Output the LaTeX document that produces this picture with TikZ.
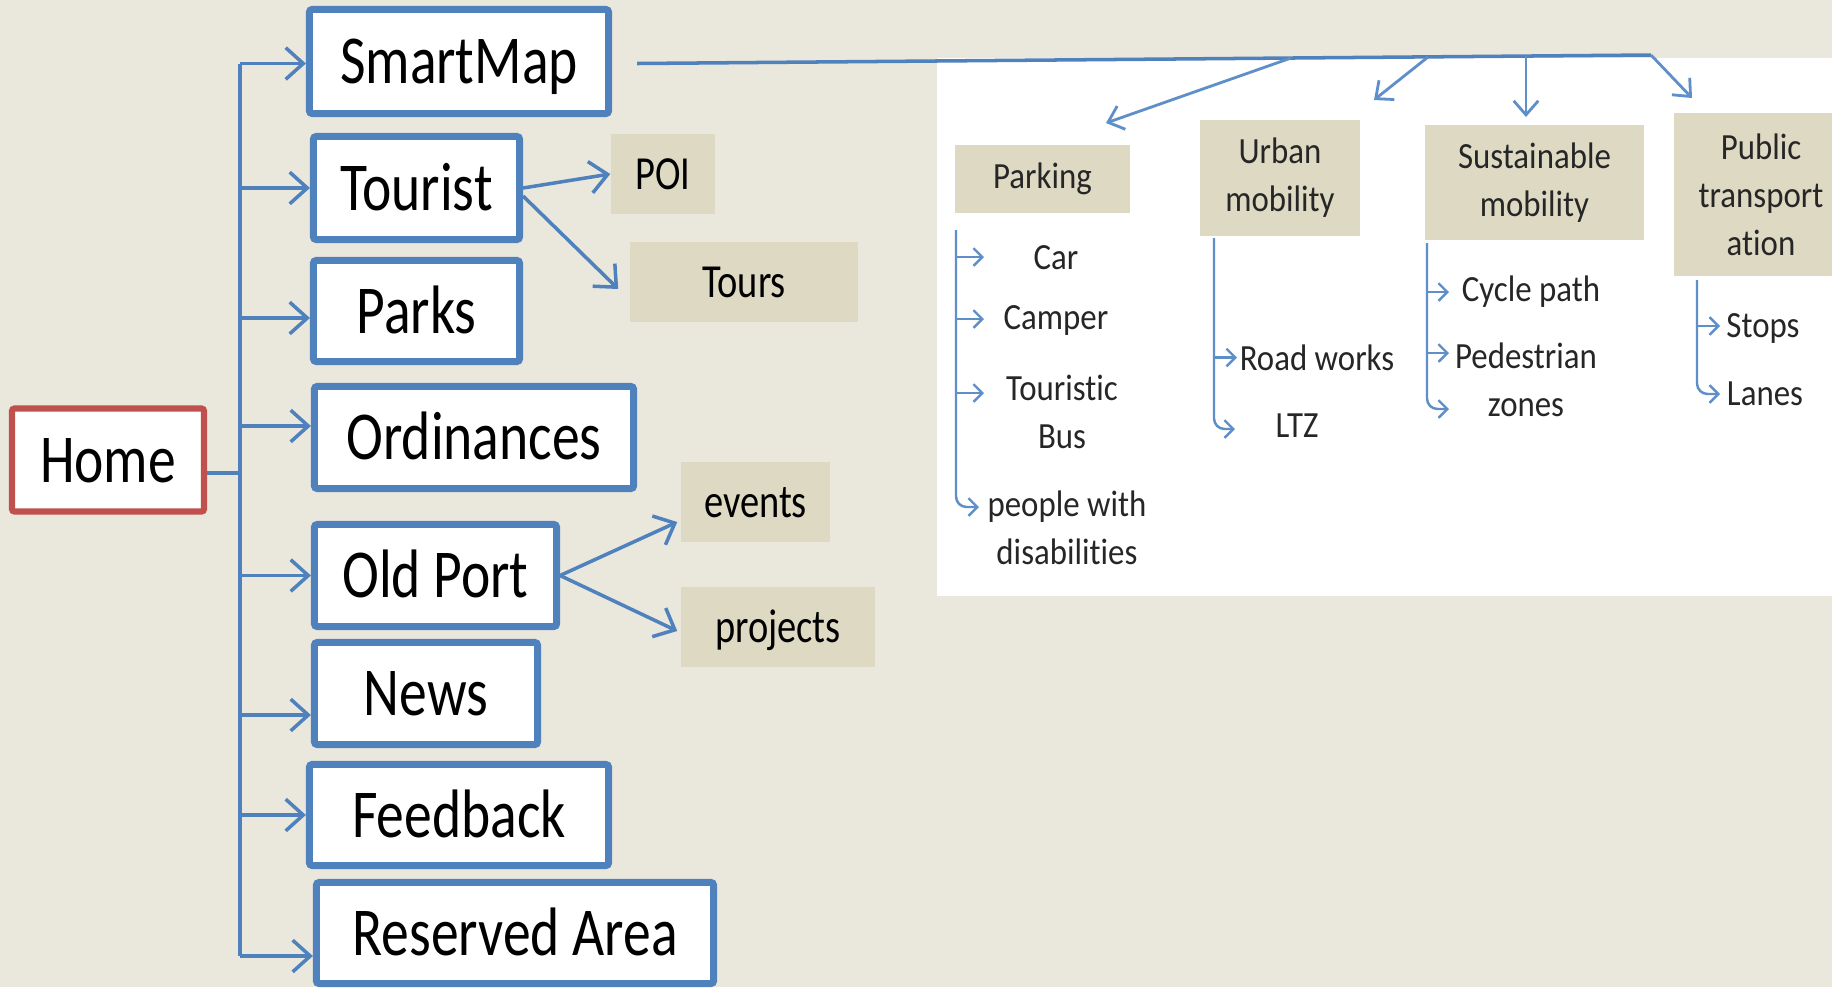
\documentclass[tikz,border=0pt]{standalone}
\usepackage{fontspec}
\setmainfont{Carlito}
\newfontfamily\narrowfont{Carlito}[FakeStretch=0.81]
\newfontfamily\panelfont{Carlito}[FakeStretch=0.89,Ligatures=NoCommon]
\usetikzlibrary{arrows.meta}
\definecolor{pagetan}{HTML}{EAE7DD}
\definecolor{boxtan}{HTML}{DDD9C3}
\definecolor{linkblue}{HTML}{4F81BD}
\definecolor{paneblue}{HTML}{5F8FC8}
\definecolor{homered}{HTML}{C0504D}

\begin{document}
\begin{tikzpicture}[x=0.01cm,y=-0.01cm,
  menu/.style={draw=linkblue, line width=2pt, fill=white, inner sep=0pt, rounded corners=0.8pt,
    text height=12.6pt, text depth=0pt, font=\narrowfont\fontsize{19.5}{23}\selectfont},
  sub/.style={fill=boxtan, inner sep=0pt, minimum height=0.8cm,
    text height=8.7pt, text depth=0pt, font=\narrowfont\fontsize{13.5}{16}\selectfont},
  cat/.style={fill=boxtan, inner sep=0pt, align=center, text=black!85,
    font=\panelfont\fontsize{10.5}{13.6}\selectfont},
  item/.style={inner sep=0pt, align=center, text=black!85,
    font=\panelfont\fontsize{10.5}{13.5}\selectfont},
  link/.style={draw=linkblue, line width=1pt, -{Straight Barb[length=5pt,width=9pt]}},
  trunk/.style={draw=linkblue, line width=1pt},
  catlink/.style={draw=paneblue, line width=0.8pt, -{Straight Barb[length=4pt,width=7pt]}},
  itemlink/.style={draw=paneblue, line width=0.7pt, -{Straight Barb[length=2.5pt,width=5pt]}}]
\useasboundingbox (0,0) rectangle (1832,987);
\fill[pagetan] (0,0) rectangle (1832,987);
\fill[white] (937,58) rectangle (1832,596);

\node[menu, draw=homered, line width=1.8pt, minimum width=1.92cm, minimum height=1.03cm] (home) at (108,460) {Home};
\node[menu, minimum width=2.99cm, minimum height=1.04cm] (smart) at (459,61.5) {SmartMap};
\node[menu, minimum width=2.06cm, minimum height=1.03cm] (tourist) at (416.5,188) {Tourist};
\node[menu, minimum width=2.06cm, minimum height=1.01cm] (parks) at (416.5,311) {Parks};
\node[menu, minimum width=3.19cm, minimum height=1.02cm] (ordin) at (474,437.5) {Ordinances};
\node[menu, minimum width=2.42cm, minimum height=1.02cm] (oldport) at (435.5,575.5) {Old Port};
\node[menu, minimum width=2.23cm, minimum height=1.02cm] (news) at (426,693.5) {News};
\node[menu, minimum width=2.99cm, minimum height=1.01cm] (feedback) at (459,815) {Feedback};
\node[menu, minimum width=3.97cm, minimum height=1.01cm] (resv) at (515,933) {Reserved Area};

\node[sub, minimum width=1.04cm] (poi) at (663,174) {POI};
\node[sub, minimum width=2.28cm] (tours) at (744,282) {Tours};
\node[sub, minimum width=1.49cm] (events) at (755.5,502) {events};
\node[sub, minimum width=1.94cm] (projects) at (778,627) {projects};

\coordinate (ttop) at (240,63.5);
\coordinate (tbot) at (240,956);
\coordinate (hx) at ([yshift=-0.13cm]home.east);
\draw[trunk] (ttop) -- (tbot);
\draw[trunk] (hx) -- (ttop |- hx);
\coordinate (sm) at ([yshift=-0.02cm]smart.west);
\coordinate (pk) at ([yshift=-0.07cm]parks.west);
\coordinate (od) at ([yshift=0.115cm]ordin.west);
\coordinate (nw) at ([yshift=-0.215cm]news.west);
\coordinate (rs) at ([yshift=-0.23cm]resv.west);
\draw[link] (ttop |- sm) -- (sm);
\draw[link] (ttop |- tourist.west) -- (tourist.west);
\draw[link] (ttop |- pk) -- (pk);
\draw[link] (ttop |- od) -- (od);
\draw[link] (ttop |- oldport.west) -- (oldport.west);
\draw[link] (ttop |- nw) -- (nw);
\draw[link] (ttop |- feedback.west) -- (feedback.west);
\draw[link] (ttop |- rs) -- (rs);

\draw[link] (tourist.east) -- (poi.west);
\draw[link] ([yshift=-0.08cm]tourist.east) -- ([xshift=-0.11cm,yshift=-0.07cm]tours.west);
\draw[link] (oldport.east) -- ([xshift=-0.03cm,yshift=-0.2cm]events.west);
\draw[link] (oldport.east) -- ([xshift=-0.03cm,yshift=-0.04cm]projects.west);

\node[cat, minimum width=1.75cm, minimum height=0.68cm] (parking) at (1042.5,179) {Parking};
\node[cat, minimum width=1.60cm, minimum height=1.16cm] (urban) at (1280,178) {Urban\\mobility};
\node[cat, minimum width=2.19cm, minimum height=1.15cm] (sustain) at (1534.5,182.5) {Sustainable\\mobility};
\node[cat, minimum width=1.74cm, minimum height=1.63cm] (public) at (1761,194.5) {Public\\transport\\ation};

\coordinate (mapA) at ([xshift=0.25cm,yshift=-0.02cm]smart.east);
\coordinate (mapB) at (1651,55);
\draw[trunk] (mapA) -- (mapB);
\coordinate (pkfrom) at (1291,58);
\coordinate (urfrom) at (1428,57);
\coordinate (sufrom) at (1526,56);
\coordinate (pkto) at (1106,123);
\coordinate (urto) at (1374,100);
\coordinate (suto) at (1526,117);
\coordinate (puto) at (1692,98);
\draw[catlink] (pkfrom) -- (pkto);
\draw[catlink] (urfrom) -- (urto);
\draw[catlink] (sufrom) -- (suto);
\draw[catlink] (mapB) -- (puto);

\node[item] (car) at (1056,258) {Car};
\node[item] (camper) at (1056,320) {Camper};
\node[item] (tbus) at (1062,412) {Touristic\\Bus};
\node[item] (ppl) at (1067,528) {people with\\disabilities};
\node[item] (road) at (1317,357.5) {Road works};
\node[item] (ltz) at (1297,426) {LTZ};
\node[item] (cycle) at (1531,292) {Cycle path};
\node[item] (ped) at (1526,380) {Pedestrian\\zones};
\node[item] (stops) at (1763,328) {Stops};
\node[item] (lanes) at (1765,394) {Lanes};

\coordinate (pktop) at (956,230);
\coordinate (carA) at (984,257);
\coordinate (camA) at (984,319);
\coordinate (busA) at (984,393);
\coordinate (pplA) at (979,507);
\draw[itemlink, rounded corners=3pt] (pktop) |- (pplA);
\draw[itemlink] (pktop |- carA) -- (carA);
\draw[itemlink] (pktop |- camA) -- (camA);
\draw[itemlink] (pktop |- busA) -- (busA);

\coordinate (urtop) at (1214,238);
\coordinate (roadA) at (1237,357.5);
\coordinate (ltzA) at (1235,429);
\draw[itemlink, rounded corners=3pt] (urtop) |- (ltzA);
\draw[itemlink] (urtop |- roadA) -- (roadA);

\coordinate (sutop) at (1427,243);
\coordinate (cycA) at (1449,292);
\coordinate (pedA) at (1449,353);
\coordinate (zonA) at (1449,409);
\draw[itemlink, rounded corners=3pt] (sutop) |- (zonA);
\draw[itemlink] (sutop |- cycA) -- (cycA);
\draw[itemlink] (sutop |- pedA) -- (pedA);

\coordinate (putop) at (1697,280);
\coordinate (stpA) at (1720,326);
\coordinate (lanA) at (1720,394);
\draw[itemlink, rounded corners=3pt] (putop) |- (lanA);
\draw[itemlink] (putop |- stpA) -- (stpA);
\end{tikzpicture}
\end{document}
